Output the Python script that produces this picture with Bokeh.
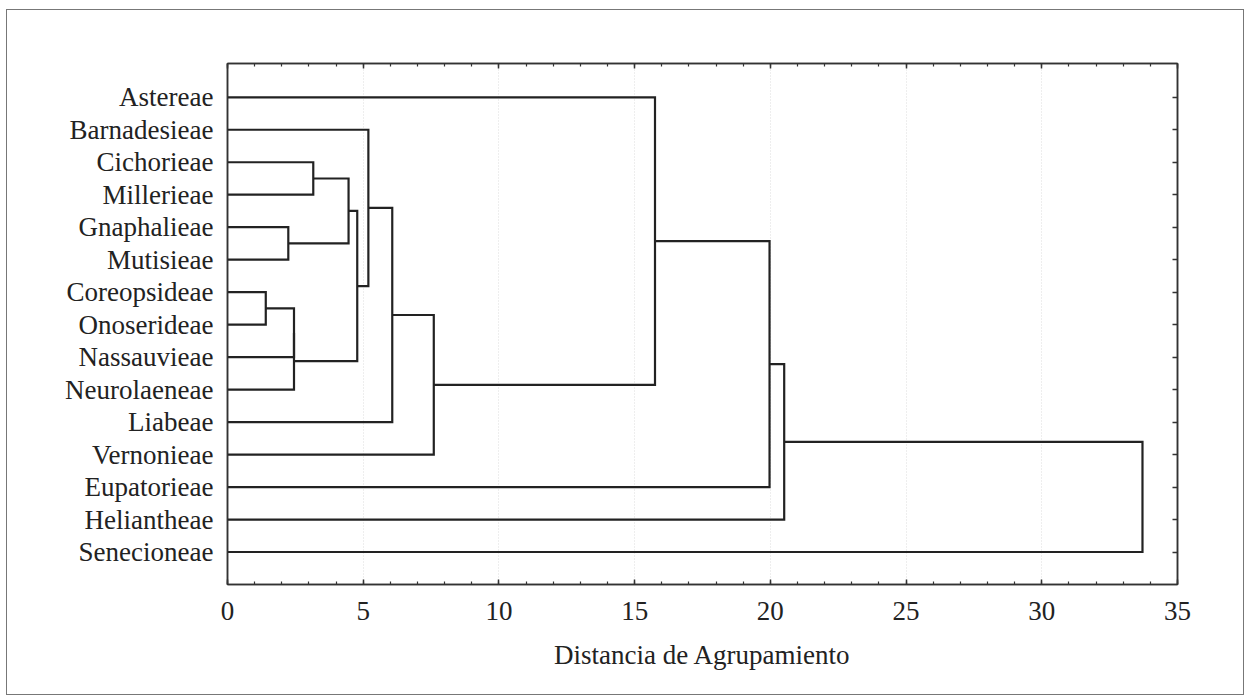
from bokeh.plotting import figure
from bokeh.models import Range1d, FixedTicker, SingleIntervalTicker, LinearAxis
from bokeh.embed import file_html
from bokeh.resources import INLINE

# Leaves, top to bottom
leaves = ["Astereae", "Barnadesieae", "Cichorieae", "Millerieae", "Gnaphalieae",
          "Mutisieae", "Coreopsideae", "Onoserideae", "Nassauvieae", "Neurolaeneae",
          "Liabeae", "Vernonieae", "Eupatorieae", "Heliantheae", "Senecioneae"]

# Joining steps (C1, C2, ... are the clusters created in order)
merge_a = ["Coreopsideae", "Gnaphalieae", "C1", "C3", "Cichorieae", "C5", "C6",
           "Barnadesieae", "C8", "C9", "Astereae", "C11", "C12", "C13"]
merge_b = ["Onoserideae", "Mutisieae", "Nassauvieae", "Neurolaeneae", "Millerieae",
           "C2", "C4", "C7", "Liabeae", "Vernonieae", "C10", "Eupatorieae",
           "Heliantheae", "Senecioneae"]
merge_dist = [1.41, 2.24, 2.45, 2.45, 3.16, 4.46, 4.78, 5.19, 6.07, 7.60,
              15.75, 19.97, 20.51, 33.71]

x_ticks = [0, 5, 10, 15, 20, 25, 30, 35]
x_label = "Distancia de Agrupamiento"

FONT = "Liberation Serif"
FS = "27px"
INK = "#222222"

pos = {name: (i + 1, 0.0) for i, name in enumerate(leaves)}
xs, ys = [], []
for k, (a, b, d) in enumerate(zip(merge_a, merge_b, merge_dist)):
    ya, ha = pos[a]
    yb, hb = pos[b]
    xs.append([ha, d, d, hb])
    ys.append([ya, ya, yb, yb])
    pos[f"C{k + 1}"] = ((ya + yb) / 2.0, d)

p = figure(width=1238, height=686, output_backend="svg", toolbar_location=None,
           x_range=Range1d(0, 35), y_range=Range1d(16.0, -0.04),
           x_axis_location=None, y_axis_location=None,
           min_border_left=220, min_border_right=68,
           min_border_top=53, min_border_bottom=112)
p.margin = (9, 0, 0, 6)
p.styles = {"border": "1px solid #777777"}
p.background_fill_color = "white"
p.border_fill_color = "white"
p.outline_line_color = "#333333"
p.outline_line_width = 1.5

p.multi_line(xs=xs, ys=ys, line_color=INK, line_width=2.2, line_join="miter")

# Bottom axis
xb = LinearAxis(ticker=FixedTicker(ticks=x_ticks, minor_ticks=list(range(0, 36))))
xb.axis_label = x_label
xb.axis_line_color = "#333333"
xb.axis_line_width = 1.5
xb.major_tick_in = 5
xb.major_tick_out = 0
xb.minor_tick_in = 3
xb.minor_tick_out = 0
xb.major_tick_line_color = "#333333"
xb.minor_tick_line_color = "#333333"
xb.major_tick_line_width = 1.5
xb.minor_tick_line_width = 1.2
xb.major_label_text_font = FONT
xb.major_label_text_font_size = FS
xb.major_label_text_color = INK
xb.major_label_standoff = 17
xb.axis_label_text_font = FONT
xb.axis_label_text_font_size = FS
xb.axis_label_text_font_style = "normal"
xb.axis_label_text_color = INK
xb.axis_label_standoff = 17
p.add_layout(xb, "below")

# Top axis (ticks only)
xt = LinearAxis(ticker=FixedTicker(ticks=x_ticks, minor_ticks=list(range(0, 36))))
xt.major_label_text_font_size = "0px"
xt.major_label_text_color = None
xt.axis_line_color = "#333333"
xt.axis_line_width = 1.5
xt.major_tick_in = 5
xt.major_tick_out = 0
xt.minor_tick_in = 3
xt.minor_tick_out = 0
xt.major_tick_line_color = "#333333"
xt.minor_tick_line_color = "#333333"
xt.major_tick_line_width = 1.5
xt.minor_tick_line_width = 1.2
p.add_layout(xt, "above")

# Left axis: leaf names
leaf_pos = list(range(1, len(leaves) + 1))
yl = LinearAxis(ticker=FixedTicker(ticks=leaf_pos))
yl.major_label_overrides = {i + 1: n for i, n in enumerate(leaves)}
yl.axis_line_color = "#333333"
yl.axis_line_width = 1.5
yl.major_tick_line_color = None
yl.minor_tick_line_color = None
yl.major_label_text_font = FONT
yl.major_label_text_font_size = FS
yl.major_label_text_color = INK
yl.major_label_standoff = 8
p.add_layout(yl, "left")

# Right axis: ticks only
yr = LinearAxis(ticker=FixedTicker(ticks=leaf_pos))
yr.major_label_text_font_size = "0px"
yr.major_label_text_color = None
yr.axis_line_color = "#333333"
yr.axis_line_width = 1.5
yr.major_tick_in = 5
yr.major_tick_out = 0
yr.minor_tick_line_color = None
yr.major_tick_line_color = "#333333"
yr.major_tick_line_width = 1.5
p.add_layout(yr, "right")

# Grid: faint dotted verticals at major x ticks
p.xgrid.ticker = FixedTicker(ticks=x_ticks)
p.xgrid.grid_line_color = "#dddddd"
p.xgrid.grid_line_dash = "1 2"
p.xgrid.grid_line_width = 1
p.ygrid.grid_line_color = None

open("out.html", "w").write(file_html(p, INLINE))
